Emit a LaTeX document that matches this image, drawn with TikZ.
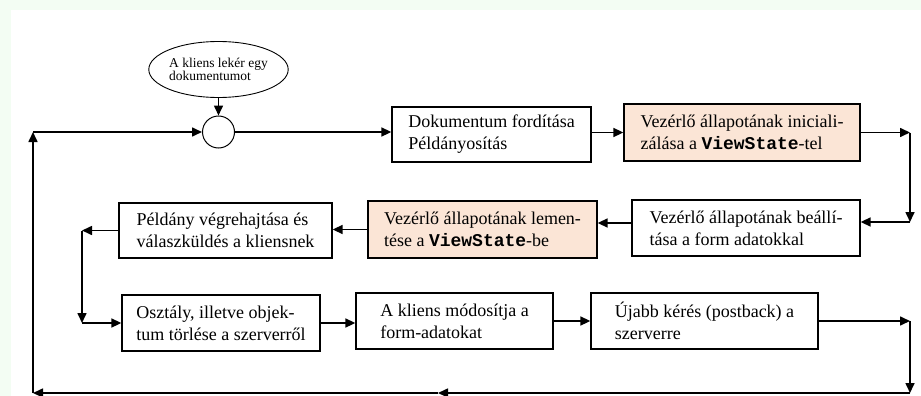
\documentclass[tikz,border=0pt]{standalone}
\usepackage{fontspec}
\setmainfont{Liberation Serif}
\setmonofont{Liberation Mono}
\usetikzlibrary{arrows.meta,shapes.geometric}
\definecolor{bggreen}{RGB}{243,253,243}
\definecolor{peach}{RGB}{251,229,214}
\newcommand{\vstate}{\texttt{\bfseries ViewState}}
\begin{document}
\begin{tikzpicture}[x=1pt,y=-1pt,
  box/.style={draw=black, line width=1.3pt, rectangle, inner xsep=13pt, inner ysep=0pt,
    align=left, font=\fontsize{18}{22}\selectfont},
  hl/.style={box, fill=peach},
  arr/.style={line width=1.6pt, -{Triangle[length=10pt,width=9pt]}}]
\useasboundingbox (0,0) rectangle (921,396);
\fill[bggreen] (0,0) rectangle (921,396);
\fill[white] (11,10) rectangle (921,396);

\node[draw, line width=0.9pt, ellipse, minimum width=129pt, minimum height=56pt, inner sep=0pt,
  align=left, font=\fontsize{13.5}{13.5}\selectfont] (e) at (218.5,69.5) {A kliens lekér egy\\dokumentumot};
\node[draw, line width=1pt, circle, minimum size=32pt, inner sep=0pt] (c) at (218.5,132) {};

\node[box, minimum width=199pt, minimum height=55pt] (b1) at (491.5,134.5) {Dokumentum fordítása\\Példányosítás};
\node[hl, minimum width=236pt, minimum height=57pt] (b2) at (742,132.5) {Vezérlő állapotának iniciali-\\zálása a \vstate-tel};
\node[box, minimum width=228pt, minimum height=56pt] (b3) at (746,228) {Vezérlő állapotának beállí-\\tása a form adatokkal};
\node[hl, minimum width=229pt, minimum height=57pt] (b4) at (482.5,229.5) {Vezérlő állapotának lemen-\\tése a \vstate-be};
\node[box, minimum width=213pt, minimum height=55pt] (b5) at (225.5,230.5) {Példány végrehajtása és\\válaszküldés a kliensnek};
\node[box, minimum width=198pt, minimum height=56pt] (b6) at (221,323) {Osztály, illetve objek-\\tum törlése a szerverről};
\node[box, minimum width=197pt, minimum height=56pt] (b7) at (454.5,321) {A kliens módosítja a\\form-adatokat};
\node[box, minimum width=227pt, minimum height=56pt] (b8) at (704.5,321) {Újabb kérés (postback) a\\szerverre};

\coordinate (r1) at (910,132.5);
\coordinate (r2) at (910,222);
\coordinate (r4) at (910,393);
\coordinate (m) at (438,393);
\coordinate (l1) at (33,393);
\coordinate (l2) at (33,132);
\coordinate (k2) at (82,323);
\path (b5.west -| k2) coordinate (k1);
\path (b8.east -| r4) coordinate (r3);

\draw[arr] (e.south) -- (c.north);
\draw[arr] (c.east) -- (c.east -| b1.west);
\draw[arr] (b1.east |- b2.west) -- (b2.west);
\draw[arr] (b2.east) -- (r1);
\draw[arr] (r1) -- (r2);
\draw[arr] (r2) -- (r2 -| b3.east);
\draw[arr] ([yshift=5pt]b3.west) -- ([yshift=5pt]b3.west -| b4.east);
\draw[arr] (b4.west) -- (b4.west -| b5.east);
\draw[arr] (b5.west) -- (k1);
\draw[arr] (k1) -- (k2);
\draw[arr] (k2) -- (b6.west);
\draw[arr] (b6.east) -- (b6.east -| b7.west);
\draw[arr] (b7.east) -- (b7.east -| b8.west);
\draw[arr] (b8.east) -- (r3);
\draw[arr] (r3) -- (r4);
\draw[arr] (r4) -- (m);
\draw[arr] (m) -- (l1);
\draw[arr] (l1) -- (l2);
\draw[arr] (l2) -- (c.west);
\end{tikzpicture}
\end{document}
